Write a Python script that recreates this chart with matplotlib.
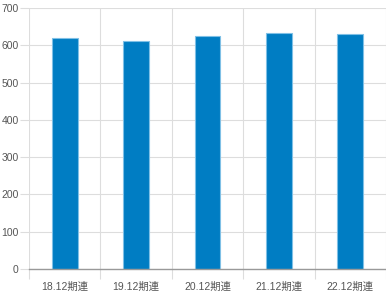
import matplotlib
matplotlib.use("Agg")
import matplotlib.pyplot as plt
import numpy as np

plt.rcParams['font.family'] = ['Liberation Sans', 'Noto Sans CJK JP', 'DejaVu Sans']

# data
categories = ["18.12期連", "19.12期連", "20.12期連", "21.12期連", "22.12期連"]
values = [620, 612, 625, 632, 631]

fig = plt.figure(figsize=(3.86, 2.93), dpi=100)
ax = fig.add_axes([29 / 386, 24 / 293, 357 / 386, 261 / 293])

x = np.arange(len(categories))
ax.bar(x, values, width=0.36, color="#007dc3", edgecolor="#7fc0e6", linewidth=0.8, zorder=3)

ax.set_xlim(-0.5, len(categories) - 0.5)
ax.set_ylim(0, 700)
ax.set_yticks(np.arange(0, 701, 100))
ax.set_xticks(x)
ax.set_xticklabels(categories)

# category boundary lines (vertical grid) drawn as minor ticks
ax.set_xticks(np.arange(-0.5, len(categories) + 0.5, 1), minor=True)
ax.grid(axis="x", which="minor", color="#dddddd", linewidth=0.8, zorder=0)
ax.grid(axis="y", which="major", color="#dddddd", linewidth=0.8, zorder=0)

ax.tick_params(axis="x", which="major", length=0, labelsize=7.5, labelcolor="#555555", pad=9)
ax.tick_params(axis="x", which="minor", length=7, color="#dddddd", width=0.8)
ax.tick_params(axis="y", length=6.5, color="#dddddd", width=0.8, labelsize=7.5,
               labelcolor="#555555", pad=1)

for side in ["top", "right", "left"]:
    ax.spines[side].set_visible(False)
ax.spines["bottom"].set_color("#999999")
ax.spines["bottom"].set_linewidth(1.0)
ax.spines["bottom"].set_zorder(4)

plt.savefig("out.png", dpi=100)
